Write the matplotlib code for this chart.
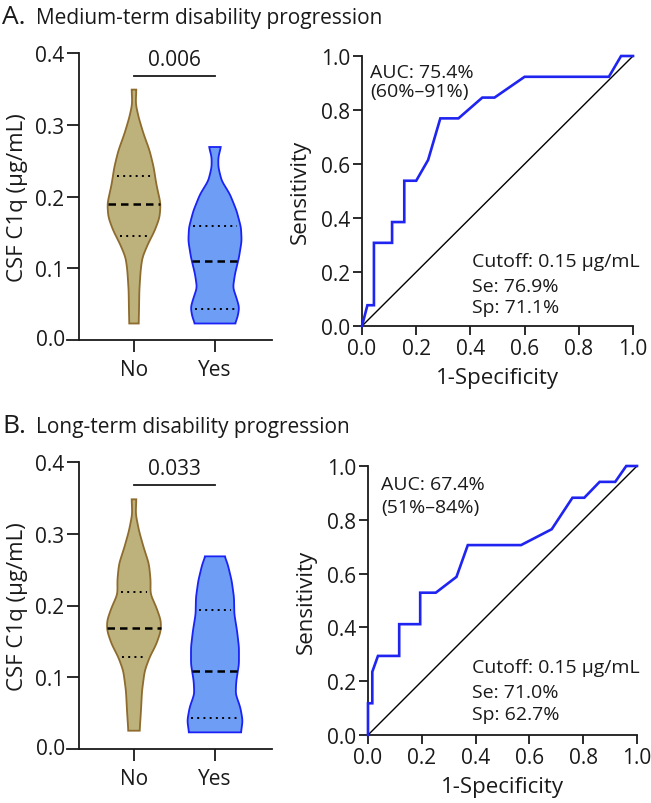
import numpy as np
import matplotlib
matplotlib.use("Agg")
import matplotlib.pyplot as plt

plt.rcParams['font.family'] = ['Open Sans', 'DejaVu Sans']
TXT = '#1a1a1a'

# ---------------- data ----------------
groups = ["No", "Yes"]
panel_titles = ["Medium-term disability progression", "Long-term disability progression"]
panel_letters = ["A.", "B."]
p_values = ["0.006", "0.033"]

# violin outlines: y level (µg/mL) and half-width (category units)
A_no_y = [0.023, 0.041, 0.069, 0.097, 0.115, 0.134, 0.152, 0.171, 0.190, 0.217, 0.241, 0.264, 0.287, 0.310, 0.329, 0.349]
A_no_w = [0.058, 0.062, 0.066, 0.082, 0.103, 0.173, 0.255, 0.317, 0.329, 0.276, 0.243, 0.193, 0.119, 0.058, 0.021, 0.029]
A_yes_y = [0.023, 0.032, 0.0455, 0.0595, 0.073, 0.092, 0.115, 0.138, 0.157, 0.180, 0.203, 0.222, 0.241, 0.255, 0.269]
A_yes_w = [0.247, 0.280, 0.300, 0.263, 0.222, 0.247, 0.296, 0.329, 0.321, 0.267, 0.185, 0.082, 0.041, 0.041, 0.074]
B_no_y = [0.0255, 0.053, 0.081, 0.109, 0.128, 0.146, 0.165, 0.179, 0.1975, 0.216, 0.2346, 0.258, 0.281, 0.304, 0.3275, 0.348]
B_no_w = [0.070, 0.086, 0.099, 0.132, 0.193, 0.276, 0.333, 0.333, 0.276, 0.202, 0.206, 0.185, 0.119, 0.062, 0.021, 0.029]
B_yes_y = [0.0232, 0.0395, 0.058, 0.0767, 0.095, 0.118, 0.142, 0.165, 0.188, 0.211, 0.2346, 0.258, 0.2685]
B_yes_w = [0.321, 0.342, 0.313, 0.255, 0.263, 0.296, 0.296, 0.272, 0.239, 0.235, 0.206, 0.156, 0.119]

# quartiles (Q1, median, Q3)
A_no_q = [0.1445, 0.189, 0.229]
A_yes_q = [0.0437, 0.1097, 0.159]
B_no_q = [0.1287, 0.1686, 0.219]
B_yes_q = [0.0427, 0.1087, 0.1937]

# ROC curves
A_fpr = [0, 0.020, 0.044, 0.044, 0.111, 0.111, 0.156, 0.156, 0.200, 0.244, 0.289, 0.356, 0.444, 0.489, 0.600, 0.911, 0.956, 1.0]
A_tpr = [0, 0.077, 0.077, 0.308, 0.308, 0.385, 0.385, 0.538, 0.538, 0.615, 0.769, 0.769, 0.846, 0.846, 0.923, 0.923, 1.0, 1.0]
B_fpr = [0, 0, 0.016, 0.016, 0.037, 0.116, 0.116, 0.194, 0.194, 0.252, 0.329, 0.371, 0.569, 0.683, 0.760, 0.804, 0.861, 0.919, 0.960, 1.0]
B_tpr = [0, 0.118, 0.118, 0.235, 0.294, 0.294, 0.412, 0.412, 0.529, 0.529, 0.588, 0.706, 0.706, 0.765, 0.882, 0.882, 0.941, 0.941, 1.0, 1.0]

auc_text = [["AUC: 75.4%", "(60%–91%)"], ["AUC: 67.4%", "(51%–84%)"]]
cut_text = [["Cutoff: 0.15 µg/mL", "Se: 76.9%", "Sp: 71.1%"],
            ["Cutoff: 0.15 µg/mL", "Se: 71.0%", "Sp: 62.7%"]]

violins = [[(A_no_y, A_no_w, A_no_q), (A_yes_y, A_yes_w, A_yes_q)],
           [(B_no_y, B_no_w, B_no_q), (B_yes_y, B_yes_w, B_yes_q)]]
rocs = [(A_fpr, A_tpr), (B_fpr, B_tpr)]

NO_FILL, NO_EDGE = '#BDB27C', '#8E6B2E'
YES_FILL, YES_EDGE = '#6E9DF6', '#1A22F5'
ROC_COL = '#1F24F0'

TICK_FS = 15
ANN_FS = 14
LAB_FS = 16

W, H = 651, 804
fig = plt.figure(figsize=(W / 100, H / 100), dpi=100)


def px_axes(x0, x1, ytop, ybot):
    return fig.add_axes([x0 / W, 1 - ybot / H, (x1 - x0) / W, (ybot - ytop) / H])


def smooth_profile(ys, ws, n=400):
    yy = np.linspace(ys[0], ys[-1], n)
    ww = np.interp(yy, ys, ws)
    k = 12
    ker = np.exp(-0.5 * (np.arange(-2 * k, 2 * k + 1) / k * 2) ** 2)
    ker /= ker.sum()
    pad = np.pad(ww, 2 * k, mode='edge')
    ww = np.convolve(pad, ker, mode='same')[2 * k:-2 * k]
    return yy, ww


def draw_violin(ax, c, ys, ws, qs, fc, ec):
    yy, ww = smooth_profile(ys, ws)
    xs = np.concatenate([c - ww, (c + ww)[::-1]])
    yv = np.concatenate([yy, yy[::-1]])
    ax.fill(xs, yv, facecolor=fc, edgecolor=ec, lw=1.3, zorder=2)
    for i, q in enumerate(qs):
        hw = np.interp(q, yy, ww)
        if i == 1:
            ax.plot([c - hw, c + hw], [q, q], color='black', lw=1.8,
                    linestyle=(0, (3, 2)), zorder=3, solid_capstyle='butt')
        else:
            hw = hw - 0.045
            ax.plot([c - hw, c + hw], [q, q], color='black', lw=1.4,
                    linestyle=(0, (1, 2.2)), zorder=3)


vpos = [(54, 341), (463, 750)]
rpos = [(362, 633, 57, 327), (368, 637, 467, 736)]
title_base = [24, 433]

for p in range(2):
    # title
    fig.text(2 / W, 1 - title_base[p] / H, panel_letters[p], fontsize=19, color=TXT,
             va='baseline', ha='left')
    fig.text(36 / W, 1 - title_base[p] / H, panel_titles[p], fontsize=15, color=TXT,
             va='baseline', ha='left')

    # violin axes
    ax = px_axes(67, 272, vpos[p][0], vpos[p][1])
    ax.set_xlim(-0.827, 1.704)
    ax.set_ylim(0, 0.4)
    for sp in ['top', 'right']:
        ax.spines[sp].set_visible(False)
    ax.spines['left'].set_position(('data', -0.679))
    ax.spines['left'].set_bounds(0, 0.4)
    for sp in ['left', 'bottom']:
        ax.spines[sp].set_linewidth(1.3)
        ax.spines[sp].set_color(TXT)
    ax.set_yticks([0.1, 0.2, 0.3, 0.4])
    ax.set_yticklabels(['0.1', '0.2', '0.3', '0.4'])
    ax.text(-0.679 - 0.17, 0.0, '0.0', fontsize=TICK_FS, color=TXT, ha='right', va='center')
    ax.set_xticks([0, 1])
    ax.set_xticklabels(groups)
    ax.tick_params(axis='both', length=8.6, width=1.3, labelsize=TICK_FS, colors=TXT, pad=2)
    ax.tick_params(axis='x', pad=5)
    ax.set_ylabel('CSF C1q (µg/mL)', fontsize=LAB_FS, color=TXT, labelpad=5)
    ax.patch.set_visible(False)
    cols = [(NO_FILL, NO_EDGE), (YES_FILL, YES_EDGE)]
    for g in range(2):
        ys, ws, qs = violins[p][g]
        draw_violin(ax, g, ys, ws, qs, cols[g][0], cols[g][1])
    ax.plot([0, 1], [0.368, 0.368], color=TXT, lw=1.3)
    ax.text(0.5, 0.377, p_values[p], fontsize=TICK_FS, color=TXT, ha='center', va='bottom')

    # ROC axes
    x0, x1, yt, yb = rpos[p]
    ra = px_axes(x0, x1, yt, yb)
    ra.set_xlim(0, 1)
    ra.set_ylim(0, 1)
    for sp in ['top', 'right']:
        ra.spines[sp].set_visible(False)
    for sp in ['left', 'bottom']:
        ra.spines[sp].set_linewidth(1.3)
        ra.spines[sp].set_color(TXT)
    ticks = np.arange(0, 1.01, 0.2)
    ra.set_xticks(ticks)
    ra.set_yticks(ticks)
    ra.set_xticklabels([f'{t:.1f}' for t in ticks])
    ra.set_yticklabels([f'{t:.1f}' for t in ticks])
    ra.tick_params(axis='both', length=6.5, width=1.3, labelsize=TICK_FS, colors=TXT, pad=2)
    ra.set_xlabel('1-Specificity', fontsize=LAB_FS, color=TXT, labelpad=6)
    ra.set_ylabel('Sensitivity', fontsize=LAB_FS, color=TXT, labelpad=7)
    ra.plot([0, 1], [0, 1], color='black', lw=1.0, zorder=2)
    fpr, tpr = rocs[p]
    ra.plot(fpr, tpr, color=ROC_COL, lw=1.9, zorder=3, clip_on=False,
            solid_joinstyle='miter')
    ra.patch.set_visible(False)
    if p == 0:
        ra.text(0.03, 0.94, auc_text[p][0], fontsize=ANN_FS, color=TXT, va='center')
        ra.text(0.03, 0.87, auc_text[p][1], fontsize=ANN_FS, color=TXT, va='center')
        for t, yv in zip(cut_text[p], [0.242, 0.149, 0.069]):
            ra.text(0.405, yv, t, fontsize=ANN_FS, color=TXT, va='center')
    else:
        ra.text(0.048, 0.933, auc_text[p][0], fontsize=ANN_FS, color=TXT, va='center')
        ra.text(0.048, 0.848, auc_text[p][1], fontsize=ANN_FS, color=TXT, va='center')
        for t, yv in zip(cut_text[p], [0.2516, 0.161, 0.078]):
            ra.text(0.385, yv, t, fontsize=ANN_FS, color=TXT, va='center')

fig.savefig('out.png', dpi=100, facecolor='white')
